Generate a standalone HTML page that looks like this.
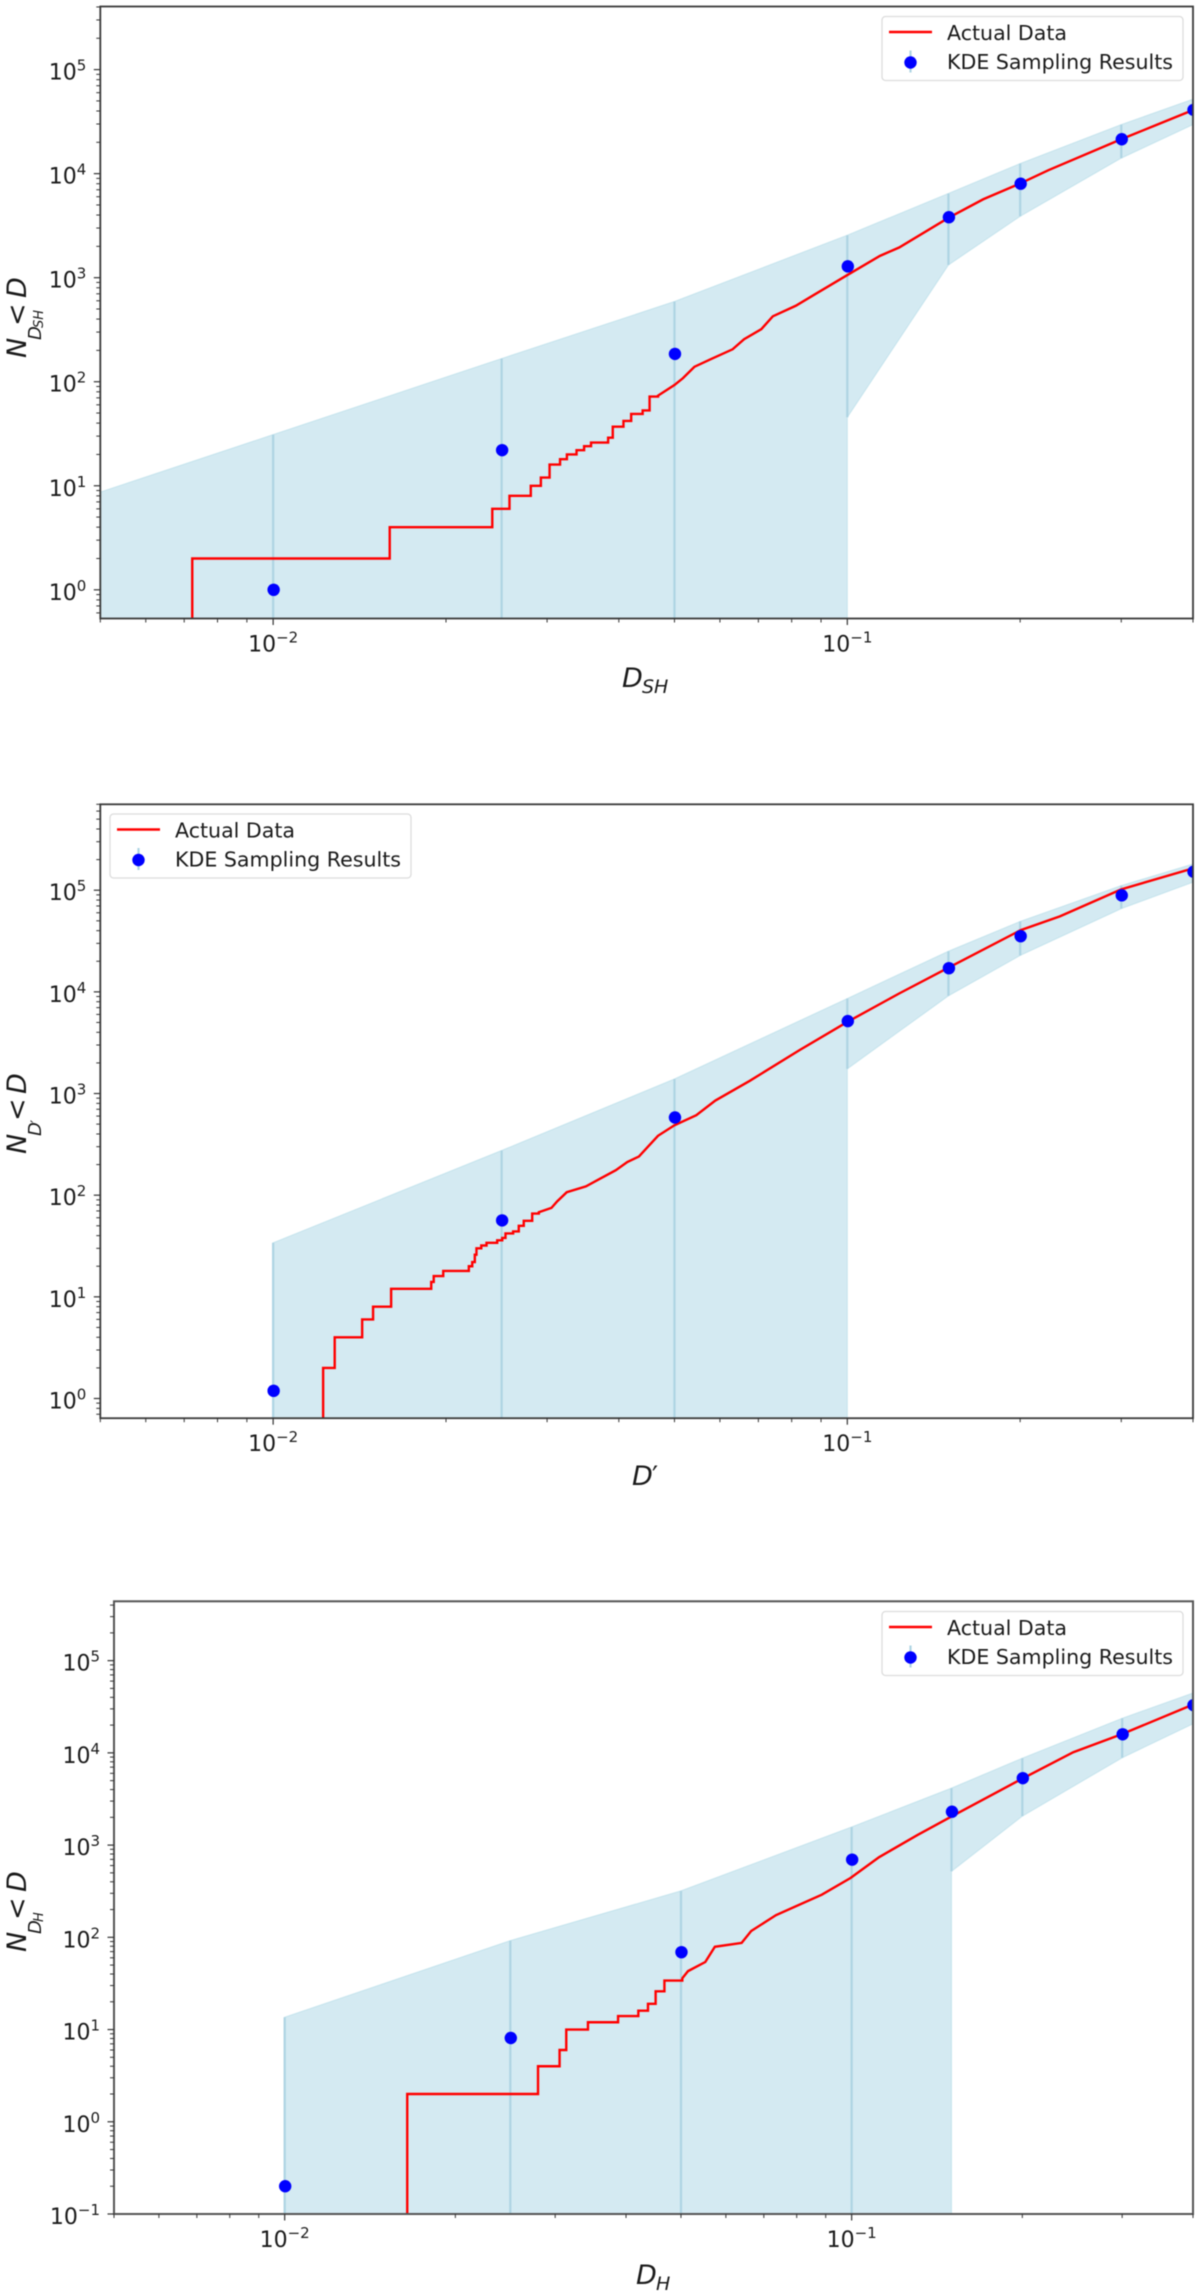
<!DOCTYPE html>
<html lang="en">
<head>
<meta charset="utf-8">
<title>KDE Sampling Results vs Actual Data</title>
<style>
html,body{margin:0;padding:0;background:#fff;}
#chart-root{display:block;width:1200px;height:2292px;filter:blur(0.45px);}
text{font-family:"DejaVu Sans","Liberation Sans",sans-serif;fill:#1a1a1a;}
</style>
</head>
<body>
<svg id="chart-root" xmlns="http://www.w3.org/2000/svg" width="1200" height="2292" viewBox="0 0 1200 2292">
  <rect x="0" y="0" width="1200" height="2292" fill="#fff"/>

  <g transform="translate(26,358) rotate(-90)">
    <text x="0" y="0" font-size="27" font-style="italic">N</text>
    <text x="18" y="15" font-size="18" font-style="italic">D</text>
    <text x="30" y="17" font-size="13" font-style="italic">SH</text>
    <text x="32" y="0" font-size="27">&lt;</text>
    <text x="60" y="0" font-size="27" font-style="italic">D</text>
  </g>
  <g>
    <text x="622" y="687" font-size="27" font-style="italic">D</text>
    <text x="642" y="693" font-size="19" font-style="italic">SH</text>
  </g>

  <g transform="translate(26,1154) rotate(-90)">
    <text x="0" y="0" font-size="27" font-style="italic">N</text>
    <text x="18" y="15" font-size="18" font-style="italic">D</text>
    <text x="31" y="15" font-size="14">′</text>
    <text x="33" y="0" font-size="27">&lt;</text>
    <text x="60" y="0" font-size="27" font-style="italic">D</text>
  </g>
  <g>
    <text x="632" y="1485" font-size="27" font-style="italic">D</text>
    <text x="652" y="1485" font-size="27">′</text>
  </g>

  <g transform="translate(26,1952) rotate(-90)">
    <text x="0" y="0" font-size="27" font-style="italic">N</text>
    <text x="18" y="15" font-size="18" font-style="italic">D</text>
    <text x="30" y="17" font-size="13" font-style="italic">H</text>
    <text x="32" y="0" font-size="27">&lt;</text>
    <text x="60" y="0" font-size="27" font-style="italic">D</text>
  </g>
  <g>
    <text x="636" y="2284" font-size="27" font-style="italic">D</text>
    <text x="656" y="2290" font-size="19" font-style="italic">H</text>
  </g>
</svg>

<script>
/* ---------- shared x positions and tick labels ---------- */
const sampleD = [0.01, 0.025, 0.05, 0.1, 0.15, 0.2, 0.3, 0.4];
const xTickExponents = [-2, -1];
const yTickExponentsDsh = [0, 1, 2, 3, 4, 5];
const yTickExponentsDprime = [0, 1, 2, 3, 4, 5];
const yTickExponentsDh = [-1, 0, 1, 2, 3, 4, 5];

/* ---------- panel 1: D_SH ---------- */
const dshSamples = [1, 22, 185, 1285, 3810, 8000, 21400, 41000];
const dshBandD = [0.005, 0.01, 0.025, 0.05, 0.1, 0.15, 0.2, 0.3, 0.4];
const dshUpper = [8.7, 31, 167, 590, 2560, 6450, 12500, 29600, 52000];
const dshLower = [0, 0, 0, 0, 45.5, 1325, 3890, 14100, 29600];
const dshActualD = [0.00723, 0.00723, 0.01596, 0.02408, 0.0258, 0.0281, 0.02926, 0.0303, 0.0316, 0.03248, 0.03376, 0.0348, 0.03578,
  0.03832, 0.03904, 0.04075, 0.04203, 0.04401, 0.04525, 0.04681, 0.04999, 0.05171, 0.05415, 0.05802, 0.06313, 0.0661, 0.07083, 0.07417,
  0.08133, 0.08782, 0.1, 0.114, 0.1231, 0.1503, 0.1725, 0.2005, 0.224, 0.2999, 0.4012];
const dshActualN = [0, 2, 4, 6, 8, 10, 12, 16, 18, 20, 22, 24, 26,
  29, 37, 42, 49, 53, 72, 73.5, 93, 108, 139, 166, 205, 256, 320, 425,
  537, 692, 1060, 1620, 1950, 3780, 5670, 8090, 10800, 21400, 41100];

/* ---------- panel 2: D' ---------- */
const dprimeSamples = [1.19, 56.5, 581, 5160, 17100, 35300, 89000, 152000];
const dprimeBandD = [0.01, 0.025, 0.05, 0.1, 0.15, 0.2, 0.3, 0.4];
const dprimeUpper = [34, 275, 1390, 8600, 25100, 49300, 111000, 181000];
const dprimeLower = [0, 0, 0, 1750, 9140, 22800, 65900, 120000];
const dprimeActualD = [0.01222, 0.01222, 0.0128, 0.01429, 0.01493, 0.01605, 0.01885, 0.01904, 0.01978, 0.02192, 0.02222, 0.02245, 0.0226,
  0.02304, 0.02353, 0.02456, 0.02506, 0.02539, 0.02618, 0.02678, 0.02732, 0.02826, 0.02902,
  0.03053, 0.03124, 0.03246, 0.03505, 0.03717, 0.03952, 0.04138, 0.04335, 0.04681, 0.04999, 0.05457, 0.05891, 0.06764, 0.08263,
  0.1, 0.1231, 0.1503, 0.2005, 0.2345, 0.2999, 0.4012];
const dprimeActualN = [0, 2, 4, 6, 8, 12, 14, 16, 18, 20, 22, 26, 30,
  32, 34, 36, 38, 42, 44, 50, 56, 66, 68,
  75, 87, 107, 122, 146, 176, 212, 240, 384, 487, 612, 853, 1334, 2680,
  5060, 9640, 17400, 40500, 55300, 102000, 165000];

/* ---------- panel 3: D_H ---------- */
const dhSamples = [0.2, 8.1, 69, 695, 2300, 5320, 15900, 32900];
const dhBandD = [0.01, 0.025, 0.05, 0.1, 0.15, 0.2, 0.3, 0.4];
const dhUpper = [13.6, 92, 319, 1570, 4150, 8750, 23700, 44600];
const dhLower = [0, 0, 0, 0, 519, 2060, 8850, 20650];
const dhActualD = [0.01645, 0.01645, 0.02798, 0.03054, 0.03138, 0.03427, 0.03873, 0.04205, 0.04373,
  0.04511, 0.04675, 0.05027, 0.05145, 0.05519, 0.05738, 0.06397, 0.0665, 0.07354, 0.08859, 0.09954,
  0.1118, 0.1306, 0.1495, 0.1837, 0.2001, 0.246, 0.2997, 0.3993];
const dhActualN = [0, 2, 4, 6, 10, 12, 14, 16, 19,
  26, 34, 36, 43, 54, 79, 87, 117, 174, 290, 440,
  740, 1285, 2020, 3980, 5270, 10160, 15960, 33260];

/* ---------- drawing ---------- */
const svg = document.getElementById('chart-root');
const SVGNS = 'http://www.w3.org/2000/svg';
const minorMultipliers = [2, 3, 4, 5, 6, 7, 8, 9];

function make(parent, tag, attrs) {
  const node = document.createElementNS(SVGNS, tag);
  for (const key in attrs) node.setAttribute(key, attrs[key]);
  parent.appendChild(node);
  return node;
}

function drawPanel(p) {
  const xScale = d => p.left + (Math.log10(d) - Math.log10(p.xMin)) / (Math.log10(p.xMax) - Math.log10(p.xMin)) * (p.right - p.left);
  const yScale = v => v <= 0 ? p.bottom + 30
    : p.bottom - (Math.log10(v) - Math.log10(p.yMin)) / (Math.log10(p.yMax) - Math.log10(p.yMin)) * (p.bottom - p.top);

  const group = make(svg, 'g', {});
  
  

  const clip = make(group, 'clipPath', { id: p.id + '-clip' });
  make(clip, 'rect', { x: p.left, y: p.top, width: p.right - p.left, height: p.bottom - p.top });
  const clipped = make(group, 'g', { 'clip-path': 'url(#' + p.id + '-clip)' });
  
  

  /* confidence band */
  const top = p.bandD.map((d, i) => xScale(d).toFixed(2) + ',' + yScale(p.upper[i]).toFixed(2));
  const bottom = [];
  for (let i = p.bandD.length - 1; i >= 0; i--) {
    bottom.push(xScale(p.bandD[i]).toFixed(2) + ',' + yScale(p.lower[i]).toFixed(2));
    if (i > 0 && p.lower[i] > 0 && p.lower[i - 1] <= 0) {
      bottom.push(xScale(p.bandD[i]).toFixed(2) + ',' + yScale(0).toFixed(2));
    }
  }
  const band = make(clipped, 'polygon', {
    points: top.concat(bottom).join(' '),
    fill: '#add8e6', 'fill-opacity': 0.53, stroke: '#add8e6', 'stroke-opacity': 0.55, 'stroke-width': 1
  });
  
  

  /* error bars */
  sampleD.forEach((d, i) => {
    const offset = p.bandD.length - sampleD.length;
    const bar = make(clipped, 'line', {
      x1: xScale(d), x2: xScale(d), y1: yScale(p.upper[i + offset]), y2: yScale(p.lower[i + offset]),
      stroke: '#aed4e3', 'stroke-width': 2.2
    });
    
    
  });

  /* actual data line */
  const pts = [[xScale(p.actualD[0]), yScale(p.actualN[0])]];
  for (let i = 1; i < p.actualD.length; i++) {
    const x = xScale(p.actualD[i]);
    if (p.actualD[i] <= p.stepUntil) pts.push([x, yScale(p.actualN[i - 1])]);
    pts.push([x, yScale(p.actualN[i])]);
  }
  const line = make(clipped, 'polyline', {
    points: pts.map(q => q[0].toFixed(2) + ',' + q[1].toFixed(2)).join(' '),
    fill: 'none', stroke: '#ff0000', 'stroke-width': 2.4, 'stroke-linejoin': 'miter'
  });
  
  

  /* sample points */
  sampleD.forEach((d, i) => {
    const dot = make(clipped, 'circle', { cx: xScale(d) + 0.5, cy: yScale(p.samples[i]), r: 6.2, fill: '#0000ff' });
    
    
  });

  /* spines */
  const frame = make(group, 'rect', {
    x: p.left, y: p.top, width: p.right - p.left, height: p.bottom - p.top,
    fill: 'none', stroke: p.spine, 'stroke-width': p.spineWidth
  });
  
  

  /* x ticks */
  const xTicks = make(group, 'g', {});
  
  
  [-3, -2, -1].forEach(e => {
    minorMultipliers.forEach(m => {
      const d = m * Math.pow(10, e);
      if (d < p.xMin * 0.999 || d > p.xMax * 1.001) return;
      const x = xScale(d);
      make(xTicks, 'line', { x1: x, x2: x, y1: p.bottom, y2: p.bottom + 4, stroke: '#333', 'stroke-width': 1 });
    });
  });
  xTickExponents.forEach(e => {
    const x = xScale(Math.pow(10, e));
    make(xTicks, 'line', { x1: x, x2: x, y1: p.bottom, y2: p.bottom + 6.5, stroke: '#333', 'stroke-width': 1.2 });
    const label = make(xTicks, 'text', { x: x, y: p.bottom + 33, 'font-size': 22, 'text-anchor': 'middle' });
    
    
    make(label, 'tspan', {}).textContent = '10';
    make(label, 'tspan', { dy: -9, 'font-size': 15 }).textContent = String(e).replace('-', '\u2212');
  });

  /* y ticks */
  const yTicks = make(group, 'g', {});
  
  
  for (let e = p.yTicks[0] - 1; e <= p.yTicks[p.yTicks.length - 1]; e++) {
    minorMultipliers.forEach(m => {
      const v = m * Math.pow(10, e);
      if (v < p.yMin || v > p.yMax) return;
      const y = yScale(v);
      make(yTicks, 'line', { x1: p.left - 4, x2: p.left, y1: y, y2: y, stroke: '#333', 'stroke-width': 1 });
    });
  }
  p.yTicks.forEach(e => {
    const y = yScale(Math.pow(10, e));
    make(yTicks, 'line', { x1: p.left - 6.5, x2: p.left, y1: y, y2: y, stroke: '#333', 'stroke-width': 1.2 });
    const label = make(yTicks, 'text', { x: p.left - 14, y: y + 10, 'font-size': 22, 'text-anchor': 'end' });
    
    
    make(label, 'tspan', {}).textContent = '10';
    make(label, 'tspan', { dy: -9, 'font-size': 15 }).textContent = String(e).replace('-', '\u2212');
  });

  /* legend */
  const lx = p.legendX, ly = p.legendY;
  const legend = make(group, 'g', {});
  
  
  make(legend, 'rect', { x: lx, y: ly, width: 301, height: 64, rx: 3.5, fill: '#fff', 'fill-opacity': 0.8, stroke: '#dcdcdc', 'stroke-width': 1.3 });

  const entry1 = make(legend, 'g', {});
  
  
  make(entry1, 'line', { x1: lx + 7, x2: lx + 50, y1: ly + 15.5, y2: ly + 15.5, stroke: '#ff0000', 'stroke-width': 2.4 });
  const text1 = make(entry1, 'text', { x: lx + 65, y: ly + 23.5, 'font-size': 20, textLength: 120, lengthAdjust: 'spacingAndGlyphs' });
  text1.textContent = 'Actual Data';

  const entry2 = make(legend, 'g', {});
  
  
  make(entry2, 'line', { x1: lx + 28.5, x2: lx + 28.5, y1: ly + 34, y2: ly + 56, stroke: '#aed4e3', 'stroke-width': 2.2 });
  make(entry2, 'circle', { cx: lx + 28.5, cy: ly + 46, r: 6.2, fill: '#0000ff' });
  const text2 = make(entry2, 'text', { x: lx + 65, y: ly + 52.5, 'font-size': 20, textLength: 226, lengthAdjust: 'spacingAndGlyphs' });
  text2.textContent = 'KDE Sampling Results';
}

drawPanel({
  id: 'panel-dsh', left: 100.3, right: 1193, top: 6.5, bottom: 618.5,
  xMin: 0.005, xMax: 0.4, yMin: 0.53, yMax: 4.04e5,
  samples: dshSamples, bandD: dshBandD, upper: dshUpper, lower: dshLower,
  actualD: dshActualD, actualN: dshActualN, stepUntil: 0.0475, yTicks: yTickExponentsDsh,
  legendX: 882, legendY: 16.5, spine: '#3a3a3a', spineWidth: 1.8
});
drawPanel({
  id: 'panel-dprime', left: 100.3, right: 1193, top: 804.3, bottom: 1418.2,
  xMin: 0.005, xMax: 0.4, yMin: 0.64, yMax: 7e5,
  samples: dprimeSamples, bandD: dprimeBandD, upper: dprimeUpper, lower: dprimeLower,
  actualD: dprimeActualD, actualN: dprimeActualN, stepUntil: 0.0291, yTicks: yTickExponentsDprime,
  legendX: 110, legendY: 814, spine: '#3a3a3a', spineWidth: 1.8
});
drawPanel({
  id: 'panel-dh', left: 114, right: 1193, top: 1601.3, bottom: 2214,
  xMin: 0.005, xMax: 0.4, yMin: 0.1, yMax: 4.4e5,
  samples: dhSamples, bandD: dhBandD, upper: dhUpper, lower: dhLower,
  actualD: dhActualD, actualN: dhActualN, stepUntil: 0.0505, yTicks: yTickExponentsDh,
  legendX: 882, legendY: 1611.5, spine: '#555555', spineWidth: 2
});
</script>
</body>
</html>
